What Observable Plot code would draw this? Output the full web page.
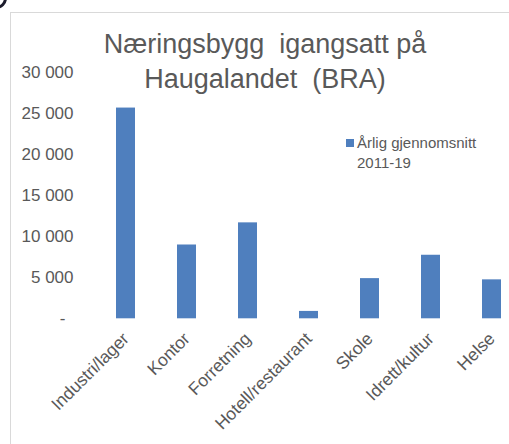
<!DOCTYPE html>
<html>
<head>
<meta charset="utf-8">
<script src="https://cdn.jsdelivr.net/npm/d3@7"></script>
<script src="https://cdn.jsdelivr.net/npm/@observablehq/plot@0.6"></script>
<style>
  html, body { margin: 0; padding: 0; background: #fff; overflow: hidden; width: 509px; height: 444px; }
  #wrap { position: relative; width: 509px; height: 444px; overflow: hidden; font-family: "Liberation Sans", Arial, sans-serif; color: #595959; }
  #frame { position: absolute; left: 10px; top: 12px; width: 600px; height: 600px; border-left: 1px solid #d9d9d9; border-top: 1px solid #d9d9d9; }
  #blob { position: absolute; left: -15px; top: -13px; width: 16px; height: 16px; border: 3px solid #1c1c2c; border-radius: 50%; }
  #chart { position: absolute; left: 0; top: 0; width: 530px; }
  #chart svg { max-width: none !important; }
  #title { position: absolute; left: 93px; top: 27px; width: 344px; text-align: center; font-size: 27px; line-height: 35px; background: #fff; white-space: pre; }
  #legend { position: absolute; left: 338px; top: 128px; width: 180px; height: 52px; background: #fff; font-size: 15px; line-height: 20px; }
  #legend .sw { position: absolute; left: 8px; top: 11px; width: 8px; height: 8px; background: #4f7fbe; }
  #legend .tx { position: absolute; left: 19px; top: 5px; }
</style>
</head>
<body>
<div id="wrap">
  <div id="frame"></div>
  <div id="blob"></div>
  <div id="chart"></div>
  <div id="title">Næringsbygg  igangsatt på
Haugalandet  (BRA)</div>
  <div id="legend"><div class="sw"></div><div class="tx">Årlig gjennomsnitt<br>2011-19</div></div>
</div>
<script>
const categories = ["Industri/lager", "Kontor", "Forretning", "Hotell/restaurant", "Skole", "Idrett/kultur", "Helse"];
const values = [25700, 9000, 11700, 900, 4900, 7750, 4750];
const yTicks = [0, 5000, 10000, 15000, 20000, 25000, 30000];
const seriesName = "Årlig gjennomsnitt 2011-19";

const data = categories.map((c, i) => ({category: c, value: values[i]}));
const fmt = d3.formatLocale({thousands: "\u00a0", grouping: [3], decimal: ",", currency: ["", ""]}).format(",");

const chart = Plot.plot({
  width: 530,
  height: 444,
  marginLeft: 94.5,
  marginRight: 8.5,
  marginTop: 72.3,
  marginBottom: 125.7,
  style: {fontFamily: "'Liberation Sans', Arial, sans-serif", color: "#595959", background: "transparent", maxWidth: "none"},
  x: {domain: categories, paddingInner: 0.69, paddingOuter: 0.345, label: null},
  y: {domain: [0, 30000], label: null},
  marks: [
    Plot.ruleY(yTicks, {stroke: "#d9d9d9", strokeWidth: 1.2, x1: 88, x2: 530, x: null}),
    Plot.barY(data, {x: "category", y: "value", fill: "#4f7fbe"}),
    Plot.axisY(yTicks.filter(d => d !== 0), {tickSize: 0, tickPadding: 21.5, tickFormat: fmt, fontSize: 17, fill: "#595959", label: null}),
    Plot.text([0], {y: d => d, frameAnchor: "left", text: () => "-", textAnchor: "end", dx: -29.5, fontSize: 17, fill: "#595959"}),
    Plot.axisX({tickSize: 0, tickPadding: 17, tickRotate: -45, fontSize: 17.5, fill: "#595959", label: null})
  ]
});
document.getElementById("chart").appendChild(chart);
</script>
</body>
</html>
